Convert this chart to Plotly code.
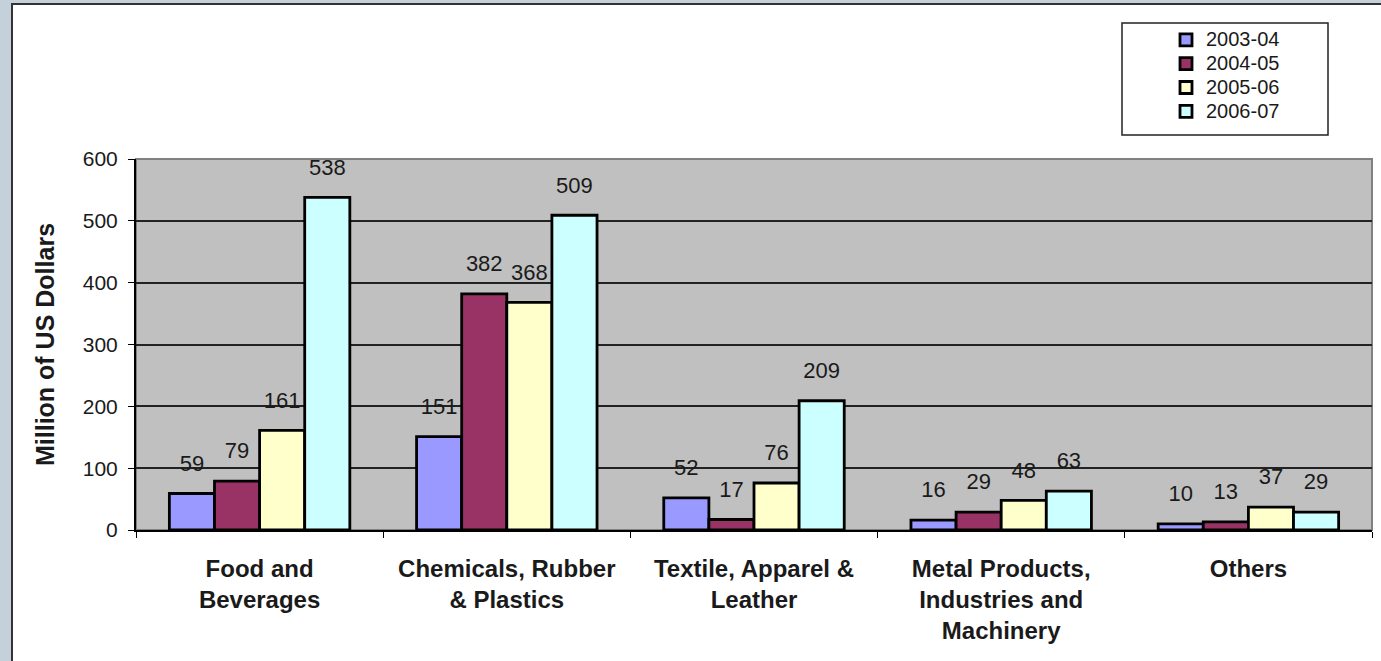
import plotly.graph_objects as go

categories = ["Food and<br>Beverages", "Chemicals, Rubber<br>& Plastics", "Textile, Apparel &<br>Leather",
              "Metal Products,<br>Industries and<br>Machinery", "Others"]
series_names = ["2003-04", "2004-05", "2005-06", "2006-07"]
v_2003_04 = [59, 151, 52, 16, 10]
v_2004_05 = [79, 382, 17, 29, 13]
v_2005_06 = [161, 368, 76, 48, 37]
v_2006_07 = [538, 509, 209, 63, 29]
colors = ["#9999FF", "#993366", "#FFFFCC", "#CCFFFF"]

FONT = "Liberation Sans, Arial, sans-serif"
GAP = 0.27
fig = go.Figure()
all_vals = [v_2003_04, v_2004_05, v_2005_06, v_2006_07]
for name, vals, col in zip(series_names, all_vals, colors):
    fig.add_trace(go.Bar(
        name="<span style='font-size:20px'>" + name + "</span>", x=categories, y=vals,
        marker=dict(color=col, line=dict(color="black", width=2.8)),
        hoverinfo="skip",
    ))
# value labels (grouped scatter so they sit over their bars)
for name, vals in zip(series_names, all_vals):
    fig.add_trace(go.Scatter(
        x=categories, y=vals, mode="markers+text", text=[str(v) for v in vals],
        textposition="top center", showlegend=False, cliponaxis=False,
        marker=dict(size=26, color="rgba(0,0,0,0)"),
        textfont=dict(size=22, color="#1a1a1a", family=FONT),
        hoverinfo="skip",
    ))

W0, H0 = 1381, 661
L, R, T, B = 136, 9, 159, 131
pw, ph = W0 - L - R, H0 - T - B
def px(x): return (x - L) / pw
def py(y): return (H0 - B - y) / ph

shapes = [
    dict(type="rect", xref="paper", yref="paper", x0=px(12), x1=px(1395), y0=py(675), y1=py(4),
         fillcolor="white", line=dict(color="#333333", width=2), layer="below"),
    dict(type="rect", xref="paper", yref="paper", x0=0, x1=1, y0=0, y1=1,
         fillcolor="#C0C0C0", line=dict(color="#808080", width=2), layer="below"),
    dict(type="rect", xref="paper", yref="paper", x0=px(1122), x1=px(1328), y0=py(135), y1=py(23),
         fillcolor="white", line=dict(color="#222222", width=1.5), layer="below"),
]

fig.update_layout(
    width=W0, height=H0,
    margin=dict(l=L, r=R, t=T, b=B, pad=0),
    paper_bgcolor="#C5D1DA", plot_bgcolor="rgba(0,0,0,0)",
    barmode="group", bargap=GAP, bargroupgap=0,
    scattermode="group", scattergap=GAP,
    font=dict(family=FONT, color="#1a1a1a"),
    shapes=shapes,
    showlegend=True,
    legend=dict(x=px(1166), y=py(23), xanchor="left", yanchor="top",
                bgcolor="rgba(0,0,0,0)", borderwidth=0,
                font=dict(size=16, family=FONT, color="#1a1a1a"),
                tracegroupgap=0, itemwidth=30),
    xaxis=dict(type="category", tickson="boundaries", ticks="outside", ticklen=6, tickcolor="black",
               showline=True, linecolor="black", linewidth=2, showgrid=False, ticklabelstandoff=16,
               tickfont=dict(size=24, family=FONT, color="#1a1a1a", weight="bold")),
    yaxis=dict(range=[0, 600], dtick=100, ticks="outside", ticklen=6, tickcolor="black",
               showline=True, linecolor="black", linewidth=2,
               showgrid=True, gridcolor="#222222", gridwidth=1.5,
               zeroline=False, ticklabelstandoff=6,
               tickfont=dict(size=21, family=FONT, color="#1a1a1a"),
               title=dict(text="<b>Million of US Dollars</b>", font=dict(size=25, family=FONT, color="#1a1a1a"),
                          standoff=21)),
)

fig.write_html("out.html")
